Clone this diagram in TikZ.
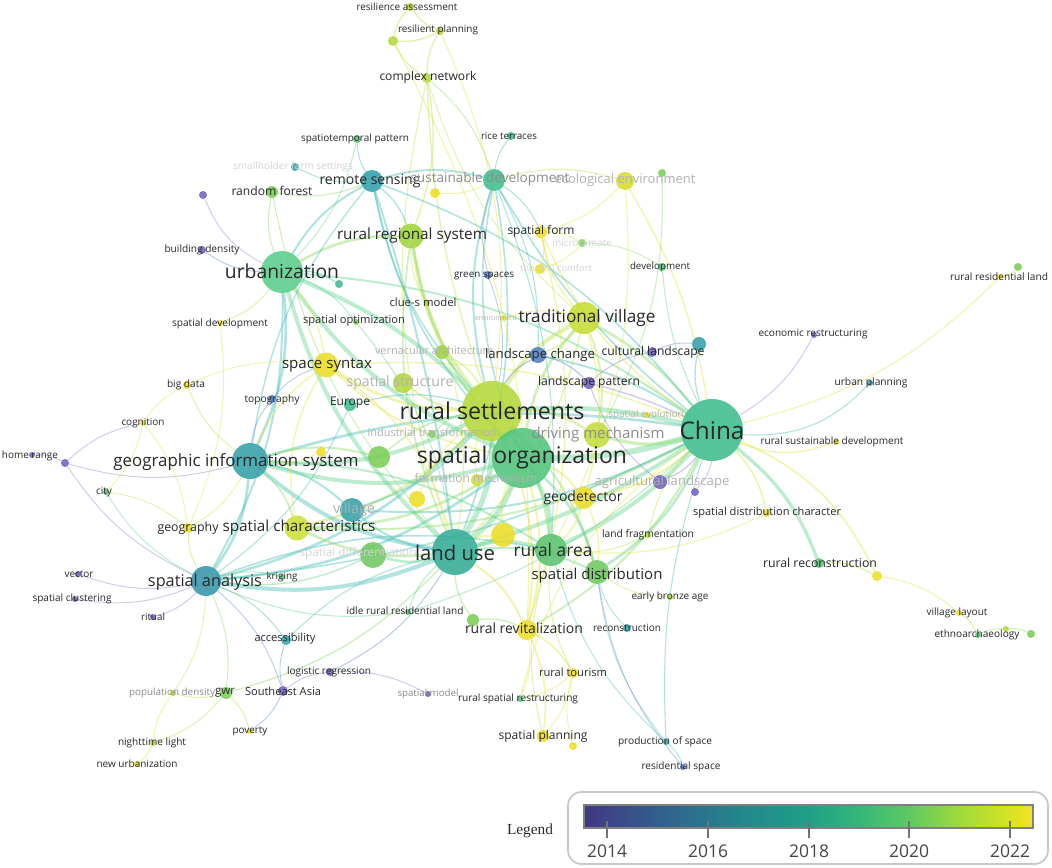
\documentclass[tikz,border=0pt]{standalone}
\usepackage{fontspec}
\usepackage{graphicx}
\newfontfamily\osans{Open Sans}
\newfontfamily\lserif{Liberation Serif}
\usetikzlibrary{backgrounds}
\pgfdeclarelayer{foreground}
\pgfsetlayers{background,main,foreground}
% node colours
\definecolor{nP}{RGB}{112,98,190}
\definecolor{nB}{RGB}{84,126,192}
\definecolor{nT}{RGB}{55,160,168}
\definecolor{nTG}{RGB}{62,188,142}
\definecolor{nG}{RGB}{88,196,118}
\definecolor{nLG}{RGB}{125,206,88}
\definecolor{nYG}{RGB}{180,216,58}
\definecolor{nY}{RGB}{236,222,38}
\definecolor{nLU}{RGB}{52,172,150}
\definecolor{nUR}{RGB}{92,204,140}
\definecolor{nSA}{RGB}{55,150,170}
\definecolor{nRS}{RGB}{50,160,170}
\definecolor{nEE}{RGB}{215,222,45}
\definecolor{nRR}{RGB}{160,212,62}
\definecolor{nTV}{RGB}{198,220,50}
\definecolor{nSC}{RGB}{205,222,55}
\definecolor{nRA}{RGB}{88,194,110}
\definecolor{nSD}{RGB}{112,200,100}
\definecolor{nDM}{RGB}{196,220,60}
\definecolor{nSO}{RGB}{80,195,125}
% edge colours
\definecolor{eP}{RGB}{140,130,210}
\definecolor{eB}{RGB}{100,140,200}
\definecolor{eT}{RGB}{70,190,185}
\definecolor{eG}{RGB}{100,210,140}
\definecolor{eLG}{RGB}{140,220,100}
\definecolor{eYG}{RGB}{190,225,70}
\definecolor{eY}{RGB}{228,228,60}
% text colours
\definecolor{txt}{RGB}{40,40,40}
\definecolor{txtm}{RGB}{140,140,140}
\definecolor{txtf}{RGB}{178,178,178}
\definecolor{txtff}{RGB}{212,212,212}
\definecolor{yrtxt}{RGB}{70,70,70}
\tikzset{
  kwc/.style={circle,inner sep=0pt,draw=none,fill opacity=0.88},
  kwl/.style={inner sep=0pt,font=\osans},
  lnk/.style={draw opacity=0.42,line cap=round},
}
\newcommand{\kn}[5]{\node[kwc,fill=#5,minimum size={#4*1.5pt}] (#1) at (#2,#3) {};}
\newcommand{\kl}[6]{\node[kwl,text=#5] (#1) at (#2,#3) {\resizebox{\dimexpr #4pt*3/4\relax}{!}{#6}};}
\newcommand{\lk}[5][15]{\draw[lnk,draw=#4,line width=#5] (#2) to[bend left=#1] (#3);}
\begin{document}
\begin{tikzpicture}[x=0.75pt,y=-0.75pt]
\useasboundingbox (0,0) rectangle (1052,867);
% ---------- circles ----------
\kn{china}{712}{430}{31}{nTG}
\kn{rset}{492}{411}{30}{nYG}
\kn{sorg}{522}{458}{30}{nSO}
\kn{luse}{455}{552}{23}{nLU}
\kn{urb}{282}{272}{21}{nUR}
\kn{gis}{250}{461}{18}{nT}
\kn{span}{206}{581}{15}{nSA}
\kn{rsen}{372}{181}{11}{nRS}
\kn{sdev}{494}{180}{11}{nTG}
\kn{ecoenv}{625}{181}{9}{nEE}
\kn{rrs}{411}{236}{12.5}{nRR}
\kn{tvil}{584}{318}{16}{nTV}
\kn{ssyn}{326}{365}{12.5}{nY}
\kn{schar}{297}{528}{12.5}{nSC}
\kn{rarea}{551}{550}{16}{nRA}
\kn{sdist}{597}{572}{12}{nSD}
\kn{rrev}{527}{630}{10}{nY}
\kn{geod}{584}{498}{11}{nY}
\kn{drive}{597}{435}{13}{nDM}
\kn{lchg}{538}{355}{8}{nB}
\kn{lpat}{589}{383}{6}{nP}
\kn{cland}{652}{352}{5}{nP}
\kn{cland2}{699}{344}{7}{nT}
\kn{agri}{660}{482}{7}{nP}
\kn{agri2}{695}{492}{4}{nP}
\kn{vill}{352}{510}{12}{nT}
\kn{europe}{350}{405}{6}{nTG}
\kn{sstruct}{403}{383}{10}{nYG}
\kn{vern}{442}{352}{7}{nRR}
\kn{indus}{432}{434}{4}{nLG}
\kn{formm}{477}{480}{6}{nEE}
\kn{ua}{379}{457}{11}{nLG}
\kn{ub}{417}{499}{8}{nY}
\kn{uc}{503}{535}{12}{nY}
\kn{sdiff}{373}{555}{13}{nSD}
\kn{ud}{321}{452}{5}{nY}
\kn{sevo}{647}{415}{3}{nY}
\kn{micro}{582}{243}{4}{nLG}
\kn{therm}{540}{269}{5}{nY}
\kn{sform}{541}{232}{6}{nY}
\kn{gsp}{488}{275}{4}{nB}
\kn{devel}{662}{267}{4}{nG}
\kn{rice}{511}{136}{4}{nTG}
\kn{cnet}{427}{78}{5}{nYG}
\kn{rplan}{440}{31}{4}{nYG}
\kn{rass}{410}{7}{4}{nYG}
\kn{ue}{393}{41}{5}{nYG}
\kn{stp}{357}{139}{4}{nG}
\kn{small}{295}{167}{4}{nT}
\kn{rforest}{272}{192}{6}{nLG}
\kn{uf}{203}{195}{4}{nP}
\kn{bden}{202}{250}{4}{nP}
\kn{ug}{339}{284}{4}{nTG}
\kn{uh}{435}{193}{5}{nY}
\kn{ui}{662}{173}{4}{nLG}
\kn{spdev}{220}{323}{3}{nY}
\kn{sopt}{356}{322}{3}{nLG}
\kn{clue}{427}{303}{3}{nYG}
\kn{envi}{504}{318}{3}{nY}
\kn{bigd}{187}{385}{4}{nY}
\kn{topo}{272}{399}{4}{nB}
\kn{cogn}{143}{423}{3}{nY}
\kn{home}{32}{455}{3}{nP}
\kn{home2}{65}{463}{4}{nP}
\kn{city}{106}{492}{3}{nG}
\kn{geog}{188}{528}{5}{nY}
\kn{vect}{78}{574}{3}{nP}
\kn{sclust}{75}{599}{3}{nP}
\kn{ritual}{153}{617}{3}{nP}
\kn{krig}{282}{577}{3}{nG}
\kn{access}{286}{640}{5}{nT}
\kn{logr}{330}{672}{4}{nP}
\kn{popd}{173}{693}{3}{nYG}
\kn{gwr}{226}{693}{6}{nLG}
\kn{sea}{283}{691}{5}{nP}
\kn{pov}{250}{731}{3}{nY}
\kn{night}{153}{743}{3}{nYG}
\kn{newu}{137}{764}{3}{nY}
\kn{idle}{408}{612}{3}{nG}
\kn{uj}{473}{620}{6}{nLG}
\kn{recon}{627}{628}{4}{nT}
\kn{bronze}{670}{597}{3}{nYG}
\kn{rtour}{573}{673}{5}{nY}
\kn{smodel}{428}{694}{3}{nP}
\kn{rsr}{520}{699}{3}{nG}
\kn{splan}{543}{736}{6}{nY}
\kn{splan2}{573}{746}{4}{nY}
\kn{prod}{666}{742}{3}{nT}
\kn{resspace}{683}{767}{3}{nB}
\kn{lfrag}{648}{535}{3}{nYG}
\kn{rrec}{819}{563}{5}{nG}
\kn{uk}{877}{576}{5}{nY}
\kn{vlay}{959}{613}{3}{nY}
\kn{ethno}{978}{635}{3}{nG}
\kn{ethnob}{1006}{629}{3}{nYG}
\kn{ethnoc}{1031}{634}{4}{nLG}
\kn{rrl}{1000}{277}{3}{nY}
\kn{rrlb}{1018}{267}{4}{nLG}
\kn{econ}{814}{335}{3}{nP}
\kn{uplan}{870}{383}{3}{nT}
\kn{rsd}{836}{442}{3}{nY}
\kn{sdc}{767}{513}{4}{nY}
% ---------- connectors ----------
\begin{pgfonlayer}{background}
\fill[white] (0,0) rectangle (1052,867);
\lk[8]{china}{sorg}{eG}{4.5pt}
\lk[-8]{china}{rset}{eG}{3.5pt}
\lk[8]{china}{luse}{eG}{3pt}
\lk[10]{china}{rarea}{eG}{3pt}
\lk[-10]{china}{tvil}{eLG}{2pt}
\lk{china}{drive}{eLG}{2.5pt}
\lk{china}{geod}{eY}{1.5pt}
\lk[-10]{china}{lchg}{eT}{1.5pt}
\lk[-5]{china}{lpat}{eP}{1pt}
\lk{china}{sdist}{eG}{2pt}
\lk[-12]{china}{gis}{eT}{2pt}
\lk[-15]{china}{urb}{eG}{1.5pt}
\lk[10]{china}{span}{eT}{1.2pt}
\lk[15]{china}{rrec}{eG}{2.5pt}
\lk[15]{china}{rrev}{eLG}{1.5pt}
\lk[10]{china}{sdev}{eT}{1.2pt}
\lk[-10]{china}{ecoenv}{eY}{1pt}
\lk[20]{china}{uk}{eY}{1.2pt}
\lk{china}{sdc}{eY}{1.2pt}
\lk[-20]{china}{rsd}{eY}{1pt}
\lk[-25]{china}{uplan}{eT}{0.8pt}
\lk[-15]{china}{econ}{eP}{0.7pt}
\lk[-15]{china}{rrl}{eY}{0.8pt}
\lk[10]{china}{devel}{eG}{0.8pt}
\lk[-10]{china}{prod}{eT}{0.8pt}
\lk{china}{vill}{eT}{1.5pt}
\lk{china}{cland2}{eT}{1pt}
\lk{china}{schar}{eLG}{1.5pt}
\lk[-12]{china}{ssyn}{eY}{1pt}
\lk{china}{agri}{eP}{1pt}
\lk{china}{agri2}{eP}{0.7pt}
\lk{china}{sform}{eY}{1pt}
\lk[-20]{china}{rsr}{eY}{0.8pt}
\lk[12]{china}{idle}{eG}{0.8pt}
\lk{rset}{sorg}{eLG}{5pt}
\lk{rset}{luse}{eG}{4pt}
\lk[-10]{rset}{urb}{eG}{3pt}
\lk{rset}{gis}{eG}{3pt}
\lk{rset}{tvil}{eYG}{3pt}
\lk{rset}{rrs}{eYG}{2.5pt}
\lk{rset}{ssyn}{eY}{2pt}
\lk{rset}{span}{eT}{2pt}
\lk{rset}{schar}{eYG}{2pt}
\lk{rset}{rarea}{eLG}{2pt}
\lk{rset}{sdist}{eLG}{1.5pt}
\lk{rset}{rrev}{eY}{1.5pt}
\lk{rset}{sdev}{eT}{1.5pt}
\lk{rset}{lchg}{eB}{1pt}
\lk[8]{rset}{cnet}{eYG}{1pt}
\lk{rset}{sstruct}{eYG}{1.5pt}
\lk{rset}{vill}{eT}{1.5pt}
\lk{rset}{drive}{eYG}{2pt}
\lk{rset}{rsen}{eT}{1.2pt}
\lk{sorg}{luse}{eG}{4pt}
\lk{sorg}{urb}{eG}{3pt}
\lk{sorg}{gis}{eG}{3pt}
\lk{sorg}{rarea}{eG}{3pt}
\lk{sorg}{span}{eT}{2pt}
\lk{sorg}{tvil}{eLG}{2pt}
\lk{sorg}{sdist}{eG}{2pt}
\lk{sorg}{schar}{eLG}{2pt}
\lk{sorg}{rrs}{eLG}{2pt}
\lk{sorg}{rsen}{eT}{1.2pt}
\lk{sorg}{geod}{eY}{1.5pt}
\lk{sorg}{rrev}{eY}{1.5pt}
\lk{sorg}{ssyn}{eY}{1.2pt}
\lk{sorg}{sdev}{eT}{1.2pt}
\lk{luse}{urb}{eG}{3pt}
\lk{luse}{gis}{eT}{3pt}
\lk{luse}{span}{eT}{3pt}
\lk[-5]{luse}{rsen}{eT}{1.5pt}
\lk{luse}{rarea}{eG}{2.5pt}
\lk{luse}{schar}{eLG}{2pt}
\lk{luse}{vill}{eT}{1.5pt}
\lk{luse}{gwr}{eLG}{1pt}
\lk{luse}{logr}{eB}{0.8pt}
\lk{luse}{rrev}{eY}{1.5pt}
\lk{luse}{sdist}{eG}{1.5pt}
\lk{luse}{cnet}{eYG}{0.8pt}
\lk{luse}{rforest}{eLG}{0.8pt}
\lk{luse}{sdiff}{eG}{2pt}
\lk{luse}{uc}{eY}{1.5pt}
\lk{urb}{gis}{eT}{2pt}
\lk{urb}{span}{eT}{1.5pt}
\lk{urb}{rsen}{eT}{1.5pt}
\lk{urb}{rrs}{eLG}{2pt}
\lk{urb}{bden}{eB}{0.8pt}
\lk[20]{urb}{uf}{eP}{0.7pt}
\lk{urb}{rforest}{eLG}{0.8pt}
\lk{urb}{sopt}{eG}{0.8pt}
\lk{urb}{spdev}{eYG}{0.8pt}
\lk{urb}{ssyn}{eY}{1pt}
\lk{urb}{ug}{eT}{1pt}
\lk{gis}{span}{eT}{2pt}
\lk{gis}{rsen}{eT}{1pt}
\lk{gis}{topo}{eB}{0.8pt}
\lk{gis}{bigd}{eYG}{0.8pt}
\lk{gis}{home2}{eP}{0.7pt}
\lk{gis}{geog}{eY}{0.8pt}
\lk{gis}{rarea}{eG}{1.5pt}
\lk{gis}{vill}{eT}{1.5pt}
\lk{gis}{ssyn}{eY}{1pt}
\lk{gis}{schar}{eLG}{1.2pt}
\lk{gis}{ua}{eLG}{1.5pt}
\lk{span}{vect}{eP}{0.7pt}
\lk{span}{sclust}{eP}{0.7pt}
\lk{span}{ritual}{eP}{0.7pt}
\lk{span}{gwr}{eLG}{0.8pt}
\lk{span}{access}{eT}{0.8pt}
\lk{span}{krig}{eG}{0.8pt}
\lk{span}{sea}{eB}{0.7pt}
\lk{span}{home2}{eP}{0.7pt}
\lk{span}{geog}{eYG}{0.8pt}
\lk{span}{city}{eG}{0.7pt}
\lk{span}{popd}{eYG}{0.7pt}
\lk{span}{rarea}{eT}{1.2pt}
\lk{rsen}{stp}{eT}{0.8pt}
\lk{rsen}{sdev}{eT}{1.5pt}
\lk{rsen}{small}{eT}{0.7pt}
\lk{rsen}{rforest}{eLG}{0.8pt}
\lk{rsen}{rrs}{eT}{1pt}
\lk{rsen}{china}{eT}{1.2pt}
\lk{sdev}{rice}{eT}{0.8pt}
\lk{sdev}{ecoenv}{eYG}{0.8pt}
\lk{sdev}{uh}{eY}{0.8pt}
\lk{sdev}{sform}{eT}{0.8pt}
\lk{sdev}{lchg}{eT}{0.8pt}
\lk{sdev}{luse}{eT}{1.2pt}
\lk{cnet}{rplan}{eYG}{1pt}
\lk{cnet}{ue}{eYG}{1pt}
\lk{rplan}{rass}{eYG}{1pt}
\lk{ue}{rass}{eYG}{1pt}
\lk{rplan}{ue}{eYG}{1pt}
\lk{cnet}{rrs}{eYG}{1pt}
\lk{cnet}{sdev}{eLG}{0.8pt}
\lk{rplan}{rset}{eY}{0.8pt}
\lk{ue}{rrev}{eY}{0.8pt}
\lk{ecoenv}{sform}{eY}{0.8pt}
\lk{ecoenv}{rarea}{eY}{0.8pt}
\lk{ui}{drive}{eLG}{0.8pt}
\lk{sform}{micro}{eY}{0.8pt}
\lk{sform}{therm}{eY}{0.8pt}
\lk{micro}{therm}{eY}{0.8pt}
\lk{sform}{rrev}{eY}{1pt}
\lk{micro}{devel}{eLG}{0.7pt}
\lk{rrec}{uk}{eYG}{1pt}
\lk{uk}{vlay}{eY}{0.8pt}
\lk{vlay}{ethno}{eYG}{0.8pt}
\lk{ethno}{ethnob}{eLG}{0.8pt}
\lk{ethnob}{ethnoc}{eLG}{0.8pt}
\lk{rrlb}{rrl}{eYG}{0.8pt}
\lk{gwr}{popd}{eYG}{0.8pt}
\lk{gwr}{pov}{eYG}{0.8pt}
\lk{gwr}{night}{eYG}{0.8pt}
\lk{night}{newu}{eY}{0.8pt}
\lk{night}{popd}{eY}{0.8pt}
\lk{sea}{logr}{eP}{0.7pt}
\lk{sea}{access}{eB}{0.7pt}
\lk{sea}{pov}{eB}{0.7pt}
\lk{logr}{smodel}{eP}{0.7pt}
\lk{access}{luse}{eT}{0.8pt}
\lk{home}{home2}{eP}{0.7pt}
\lk{home2}{cogn}{eP}{0.7pt}
\lk{cogn}{city}{eY}{0.7pt}
\lk{cogn}{bigd}{eY}{0.7pt}
\lk{cogn}{geog}{eY}{0.7pt}
\lk{city}{geog}{eYG}{0.7pt}
\lk{bigd}{ssyn}{eY}{0.7pt}
\lk{topo}{ssyn}{eB}{0.7pt}
\lk{spdev}{geog}{eY}{0.7pt}
\lk{rrev}{splan}{eY}{1.2pt}
\lk{rrev}{rtour}{eY}{1.2pt}
\lk{rtour}{splan}{eY}{0.8pt}
\lk{rtour}{rsr}{eY}{0.7pt}
\lk{rrev}{rsr}{eY}{0.7pt}
\lk{splan2}{rtour}{eY}{0.7pt}
\lk{rtour}{rarea}{eYG}{0.8pt}
\lk{splan}{rarea}{eYG}{0.8pt}
\lk{prod}{resspace}{eT}{0.7pt}
\lk{prod}{sdist}{eT}{0.7pt}
\lk{recon}{sdist}{eT}{0.7pt}
\lk{bronze}{sdist}{eYG}{0.7pt}
\lk{resspace}{sdist}{eB}{0.7pt}
\lk{prod}{rarea}{eT}{0.7pt}
\lk{lchg}{lpat}{eB}{1pt}
\lk{lpat}{cland}{eP}{0.8pt}
\lk{cland}{cland2}{eP}{0.8pt}
\lk{agri}{lpat}{eP}{0.8pt}
\lk{idle}{luse}{eG}{0.8pt}
\lk{idle}{span}{eG}{0.8pt}
\lk{uj}{rrev}{eLG}{1pt}
\lk{uj}{luse}{eLG}{1pt}
\lk{sdc}{rarea}{eY}{0.8pt}
\lk{tvil}{lchg}{eYG}{1pt}
\lk{tvil}{sform}{eY}{1pt}
\lk{tvil}{drive}{eYG}{1.5pt}
\lk{tvil}{geod}{eY}{1pt}
\lk{geod}{rarea}{eY}{1.2pt}
\lk{geod}{sdist}{eY}{1pt}
\lk{clue}{luse}{eYG}{0.8pt}
\lk{clue}{rrs}{eYG}{0.8pt}
\lk{sopt}{luse}{eG}{0.8pt}
\lk{envi}{tvil}{eY}{0.8pt}
\lk{gsp}{sdev}{eB}{0.7pt}
\lk{gsp}{rset}{eB}{0.7pt}
\lk{lfrag}{rarea}{eYG}{0.8pt}
\lk{lfrag}{china}{eYG}{0.8pt}
\lk{sevo}{china}{eY}{0.8pt}
\lk{europe}{span}{eT}{0.8pt}
\lk{europe}{rset}{eT}{1pt}
\lk{vern}{rset}{eYG}{1pt}
\lk{stp}{urb}{eG}{0.7pt}
\lk{ub}{rset}{eY}{1pt}
\lk{uc}{sorg}{eY}{1.2pt}
\lk{ud}{gis}{eY}{0.8pt}
\lk{ua}{rset}{eLG}{1.2pt}
\lk{sdiff}{span}{eG}{1pt}
\lk{formm}{rset}{eY}{0.8pt}
\lk{indus}{rset}{eLG}{0.8pt}
\lk[-20]{ssyn}{schar}{eY}{1pt}
\lk[20]{ssyn}{luse}{eY}{1pt}
\lk[-15]{rrs}{luse}{eLG}{1.2pt}
\lk[15]{tvil}{luse}{eYG}{1pt}
\lk[-15]{cnet}{tvil}{eYG}{0.7pt}
\lk[12]{sdev}{rarea}{eT}{0.8pt}
\end{pgfonlayer}
% ---------- labels ----------
\begin{pgfonlayer}{foreground}
\kl{l-rass}{407}{7}{101}{txt}{resilience assessment}
\kl{l-rplan}{438}{30}{80}{txt}{resilient planning}
\kl{l-cnet}{428}{77}{97}{txt}{complex network}
\kl{l-stp}{355}{139}{108}{txt}{spatiotemporal pattern}
\kl{l-rice}{509}{136}{56}{txt}{rice terraces}
\kl{l-small}{293}{167}{120}{txtff}{smallholder farm settings}
\kl{l-rsen}{370}{181}{101}{txt}{remote sensing}
\kl{l-sdev}{490}{179}{159}{txtm}{sustainable development}
\kl{l-ecoenv}{625}{180}{141}{txtf}{ecological environment}
\kl{l-rforest}{272}{191}{81}{txt}{random forest}
\kl{l-rrs}{412}{236}{150}{txt}{rural regional system}
\kl{l-sform}{541}{231}{67}{txt}{spatial form}
\kl{l-micro}{582}{243}{60}{txtff}{microclimate}
\kl{l-bden}{202}{250}{75}{txt}{building density}
\kl{l-urb}{282}{271}{114}{txt}{urbanization}
\kl{l-therm}{556}{268}{72}{txtff}{thermal comfort}
\kl{l-gsp}{484}{276}{60}{txt}{green spaces}
\kl{l-devel}{660}{267}{60}{txt}{development}
\kl{l-rrl}{999}{277}{98}{txt}{rural residential land}
\kl{l-clue}{423}{302}{67}{txt}{clue-s model}
\kl{l-spdev}{220}{324}{96}{txt}{spatial development}
\kl{l-sopt}{354}{321}{102}{txt}{spatial optimization}
\kl{l-envi}{496}{318}{42}{txtf}{environment}
\kl{l-tvil}{587}{318}{137}{txt}{traditional village}
\kl{l-econ}{813}{334}{109}{txt}{economic restructuring}
\kl{l-vern}{434}{350}{118}{txtf}{vernacular architecture}
\kl{l-lchg}{540}{355}{110}{txt}{landscape change}
\kl{l-cland}{653}{352}{103}{txt}{cultural landscape}
\kl{l-ssyn}{327}{365}{90}{txt}{space syntax}
\kl{l-sstruct}{400}{383}{107}{txtf}{spatial structure}
\kl{l-lpat}{589}{382}{102}{txt}{landscape pattern}
\kl{l-uplan}{871}{383}{73}{txt}{urban planning}
\kl{l-bigd}{186}{385}{38}{txt}{big data}
\kl{l-topo}{272}{400}{55}{txt}{topography}
\kl{l-europe}{350}{403}{40}{txt}{Europe}
\kl{l-rset}{492}{411}{185}{txt}{rural settlements}
\kl{l-sevo}{646}{415}{75}{txtf}{spatial evolution}
\kl{l-cogn}{143}{423}{43}{txt}{cognition}
\kl{l-china}{712}{430}{65}{txt}{China}
\kl{l-indus}{432}{432}{129}{txtf}{industrial transformation}
\kl{l-drive}{598}{435}{133}{txtm}{driving mechanism}
\kl{l-rsd}{832}{442}{143}{txt}{rural sustainable development}
\kl{l-home}{30}{456}{56}{txt}{home range}
\kl{l-gis}{236}{462}{245}{txt}{geographic information system}
\kl{l-sorg}{522}{458}{210}{txt}{spatial organization}
\kl{l-formm}{476}{478}{123}{txtf}{formation mechanism}
\kl{l-agri}{662}{482}{135}{txtf}{agricultural landscape}
\kl{l-city}{104}{492}{16}{txt}{city}
\kl{l-geod}{583}{498}{79}{txt}{geodetector}
\kl{l-vill}{354}{510}{42}{txtf}{village}
\kl{l-sdc}{767}{513}{148}{txt}{spatial distribution character}
\kl{l-geog}{188}{528}{61}{txt}{geography}
\kl{l-schar}{299}{528}{153}{txt}{spatial characteristics}
\kl{l-lfrag}{648}{535}{92}{txt}{land fragmentation}
\kl{l-luse}{455}{553}{80}{txt}{land use}
\kl{l-rarea}{553}{550}{79}{txt}{rural area}
\kl{l-sdiff}{358}{553}{117}{txtff}{spatial differentiation}
\kl{l-rrec}{820}{563}{114}{txt}{rural reconstruction}
\kl{l-vect}{79}{574}{29}{txt}{vector}
\kl{l-span}{205}{582}{114}{txt}{spatial analysis}
\kl{l-krig}{282}{577}{31}{txt}{kriging}
\kl{l-sdist}{597}{576}{131}{txt}{spatial distribution}
\kl{l-bronze}{670}{597}{77}{txt}{early bronze age}
\kl{l-sclust}{72}{599}{79}{txt}{spatial clustering}
\kl{l-idle}{405}{611}{117}{txt}{idle rural residential land}
\kl{l-ritual}{153}{617}{24}{txt}{ritual}
\kl{l-rrev}{524}{628}{118}{txt}{rural revitalization}
\kl{l-recon}{627}{628}{68}{txt}{reconstruction}
\kl{l-vlay}{957}{613}{61}{txt}{village layout}
\kl{l-ethno}{977}{635}{85}{txt}{ethnoarchaeology}
\kl{l-access}{285}{639}{61}{txt}{accessibility}
\kl{l-logr}{329}{672}{84}{txt}{logistic regression}
\kl{l-rtour}{573}{672}{68}{txt}{rural tourism}
\kl{l-popd}{172}{693}{86}{txtm}{population density}
\kl{l-gwr}{225}{693}{20}{txt}{gwr}
\kl{l-sea}{283}{691}{76}{txt}{Southeast Asia}
\kl{l-smodel}{428}{694}{61}{txtm}{spatial model}
\kl{l-rsr}{518}{699}{120}{txt}{rural spatial restructuring}
\kl{l-pov}{250}{731}{35}{txt}{poverty}
\kl{l-splan}{543}{736}{89}{txt}{spatial planning}
\kl{l-prod}{665}{742}{94}{txt}{production of space}
\kl{l-night}{152}{743}{68}{txt}{nighttime light}
\kl{l-newu}{137}{764}{81}{txt}{new urbanization}
\kl{l-resspace}{681}{767}{79}{txt}{residential space}
\end{pgfonlayer}
% ---------- legend ----------
\draw[draw=black!22,line width=1.2pt,rounded corners=10pt] (568,792) rectangle (1048,864);
\node[inner sep=0pt,font=\lserif,text=txt] (legend) at (530,831) {\resizebox{\dimexpr 46pt*3/4\relax}{!}{Legend}};
\definecolor{v0}{RGB}{66,56,132}
\definecolor{v1}{RGB}{50,96,141}
\definecolor{v2}{RGB}{34,135,138}
\definecolor{v3}{RGB}{31,160,136}
\definecolor{v4}{RGB}{53,183,121}
\definecolor{v5}{RGB}{94,201,98}
\definecolor{v6}{RGB}{160,218,57}
\definecolor{v7}{RGB}{242,229,30}
\shade[left color=v0,right color=v1] (584,805) rectangle (660.5,828);
\shade[left color=v1,right color=v2] (660,805) rectangle (740.5,828);
\shade[left color=v2,right color=v3] (740,805) rectangle (809.5,828);
\shade[left color=v3,right color=v4] (809,805) rectangle (860.5,828);
\shade[left color=v4,right color=v5] (860,805) rectangle (909.5,828);
\shade[left color=v5,right color=v6] (909,805) rectangle (960.5,828);
\shade[left color=v6,right color=v7] (960,805) rectangle (1033,828);
\draw[draw=black!50,line width=1.1pt] (584,805) rectangle (1033,828);
\foreach \tx in {607,708,809,909,1010}{\draw[draw=black!55,line width=1.4pt] (\tx,821) -- (\tx,838);}
\kl{y2014}{607}{851}{40}{yrtxt}{2014}
\kl{y2016}{708}{851}{40}{yrtxt}{2016}
\kl{y2018}{809}{851}{40}{yrtxt}{2018}
\kl{y2020}{909}{851}{40}{yrtxt}{2020}
\kl{y2022}{1010}{851}{40}{yrtxt}{2022}
\end{tikzpicture}
\end{document}
